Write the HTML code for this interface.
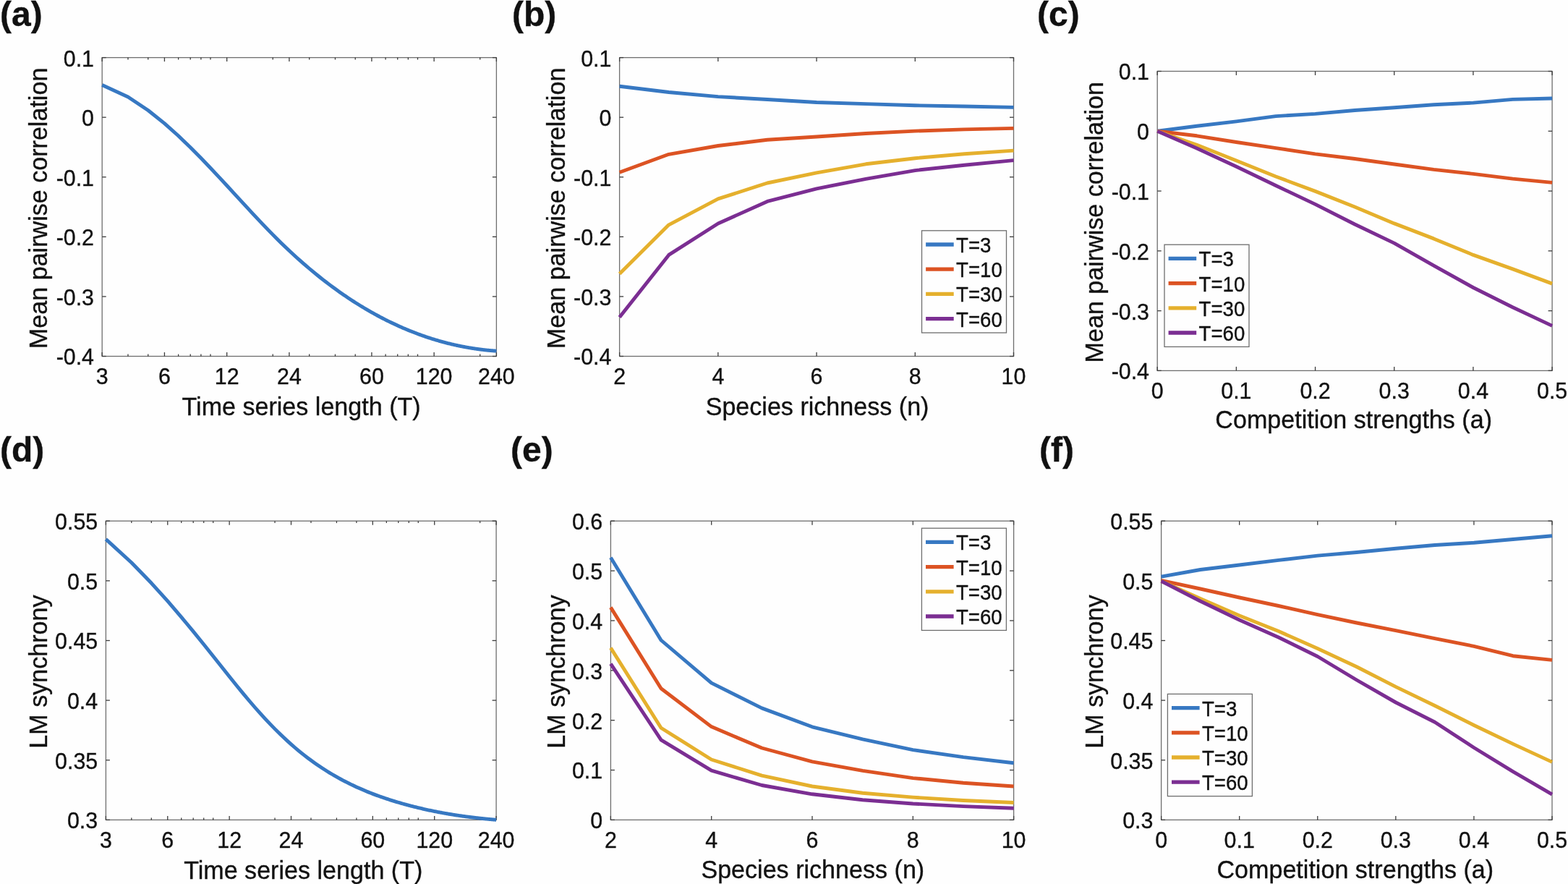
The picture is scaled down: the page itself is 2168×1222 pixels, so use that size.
<!DOCTYPE html>
<html><head><meta charset="utf-8"><title>Figure</title>
<style>
html,body{margin:0;padding:0;background:#fefefe;}
body{width:2168px;height:1222px;overflow:hidden;}
svg{display:block;}
text{fill:#111111;font-family:"Liberation Sans", Arial, Helvetica, sans-serif;stroke:#111111;stroke-width:0.35px;}
</style></head><body>
<svg width="2168" height="1222" viewBox="0 0 2168 1222">
<rect x="0" y="0" width="2168" height="1222" fill="#fefefe"/>
<rect x="141.2" y="79.6" width="545.2" height="412.9" fill="none" stroke="#6e6e6e" stroke-width="1.3"/>
<line x1="141.2" y1="79.6" x2="146.7" y2="79.6" stroke="#3c3c3c" stroke-width="1.3"/>
<line x1="686.4" y1="79.6" x2="680.9" y2="79.6" stroke="#3c3c3c" stroke-width="1.3"/>
<text font-size="30.4" text-anchor="end" transform="translate(130,91.5) scale(1.0,1.05)">0.1</text>
<line x1="141.2" y1="162.18" x2="146.7" y2="162.18" stroke="#3c3c3c" stroke-width="1.3"/>
<line x1="686.4" y1="162.18" x2="680.9" y2="162.18" stroke="#3c3c3c" stroke-width="1.3"/>
<text font-size="30.4" text-anchor="end" transform="translate(130,174.08) scale(1.0,1.05)">0</text>
<line x1="141.2" y1="244.76" x2="146.7" y2="244.76" stroke="#3c3c3c" stroke-width="1.3"/>
<line x1="686.4" y1="244.76" x2="680.9" y2="244.76" stroke="#3c3c3c" stroke-width="1.3"/>
<text font-size="30.4" text-anchor="end" transform="translate(130,256.66) scale(1.0,1.05)">-0.1</text>
<line x1="141.2" y1="327.34" x2="146.7" y2="327.34" stroke="#3c3c3c" stroke-width="1.3"/>
<line x1="686.4" y1="327.34" x2="680.9" y2="327.34" stroke="#3c3c3c" stroke-width="1.3"/>
<text font-size="30.4" text-anchor="end" transform="translate(130,339.24) scale(1.0,1.05)">-0.2</text>
<line x1="141.2" y1="409.92" x2="146.7" y2="409.92" stroke="#3c3c3c" stroke-width="1.3"/>
<line x1="686.4" y1="409.92" x2="680.9" y2="409.92" stroke="#3c3c3c" stroke-width="1.3"/>
<text font-size="30.4" text-anchor="end" transform="translate(130,421.82) scale(1.0,1.05)">-0.3</text>
<line x1="141.2" y1="492.5" x2="146.7" y2="492.5" stroke="#3c3c3c" stroke-width="1.3"/>
<line x1="686.4" y1="492.5" x2="680.9" y2="492.5" stroke="#3c3c3c" stroke-width="1.3"/>
<text font-size="30.4" text-anchor="end" transform="translate(130,504.4) scale(1.0,1.05)">-0.4</text>
<line x1="176.99" y1="492.5" x2="176.99" y2="489.6" stroke="#3c3c3c" stroke-width="1.3"/>
<line x1="176.99" y1="79.6" x2="176.99" y2="82.5" stroke="#3c3c3c" stroke-width="1.3"/>
<line x1="204.76" y1="492.5" x2="204.76" y2="489.6" stroke="#3c3c3c" stroke-width="1.3"/>
<line x1="204.76" y1="79.6" x2="204.76" y2="82.5" stroke="#3c3c3c" stroke-width="1.3"/>
<line x1="246.62" y1="492.5" x2="246.62" y2="489.6" stroke="#3c3c3c" stroke-width="1.3"/>
<line x1="246.62" y1="79.6" x2="246.62" y2="82.5" stroke="#3c3c3c" stroke-width="1.3"/>
<line x1="263.23" y1="492.5" x2="263.23" y2="489.6" stroke="#3c3c3c" stroke-width="1.3"/>
<line x1="263.23" y1="79.6" x2="263.23" y2="82.5" stroke="#3c3c3c" stroke-width="1.3"/>
<line x1="277.89" y1="492.5" x2="277.89" y2="489.6" stroke="#3c3c3c" stroke-width="1.3"/>
<line x1="277.89" y1="79.6" x2="277.89" y2="82.5" stroke="#3c3c3c" stroke-width="1.3"/>
<line x1="291" y1="492.5" x2="291" y2="489.6" stroke="#3c3c3c" stroke-width="1.3"/>
<line x1="291" y1="79.6" x2="291" y2="82.5" stroke="#3c3c3c" stroke-width="1.3"/>
<line x1="377.23" y1="492.5" x2="377.23" y2="489.6" stroke="#3c3c3c" stroke-width="1.3"/>
<line x1="377.23" y1="79.6" x2="377.23" y2="82.5" stroke="#3c3c3c" stroke-width="1.3"/>
<line x1="427.68" y1="492.5" x2="427.68" y2="489.6" stroke="#3c3c3c" stroke-width="1.3"/>
<line x1="427.68" y1="79.6" x2="427.68" y2="82.5" stroke="#3c3c3c" stroke-width="1.3"/>
<line x1="463.47" y1="492.5" x2="463.47" y2="489.6" stroke="#3c3c3c" stroke-width="1.3"/>
<line x1="463.47" y1="79.6" x2="463.47" y2="82.5" stroke="#3c3c3c" stroke-width="1.3"/>
<line x1="491.24" y1="492.5" x2="491.24" y2="489.6" stroke="#3c3c3c" stroke-width="1.3"/>
<line x1="491.24" y1="79.6" x2="491.24" y2="82.5" stroke="#3c3c3c" stroke-width="1.3"/>
<line x1="533.1" y1="492.5" x2="533.1" y2="489.6" stroke="#3c3c3c" stroke-width="1.3"/>
<line x1="533.1" y1="79.6" x2="533.1" y2="82.5" stroke="#3c3c3c" stroke-width="1.3"/>
<line x1="549.71" y1="492.5" x2="549.71" y2="489.6" stroke="#3c3c3c" stroke-width="1.3"/>
<line x1="549.71" y1="79.6" x2="549.71" y2="82.5" stroke="#3c3c3c" stroke-width="1.3"/>
<line x1="564.37" y1="492.5" x2="564.37" y2="489.6" stroke="#3c3c3c" stroke-width="1.3"/>
<line x1="564.37" y1="79.6" x2="564.37" y2="82.5" stroke="#3c3c3c" stroke-width="1.3"/>
<line x1="577.48" y1="492.5" x2="577.48" y2="489.6" stroke="#3c3c3c" stroke-width="1.3"/>
<line x1="577.48" y1="79.6" x2="577.48" y2="82.5" stroke="#3c3c3c" stroke-width="1.3"/>
<line x1="663.72" y1="492.5" x2="663.72" y2="489.6" stroke="#3c3c3c" stroke-width="1.3"/>
<line x1="663.72" y1="79.6" x2="663.72" y2="82.5" stroke="#3c3c3c" stroke-width="1.3"/>
<line x1="141.2" y1="492.5" x2="141.2" y2="487" stroke="#3c3c3c" stroke-width="1.3"/>
<line x1="141.2" y1="79.6" x2="141.2" y2="85.1" stroke="#3c3c3c" stroke-width="1.3"/>
<line x1="227.44" y1="492.5" x2="227.44" y2="487" stroke="#3c3c3c" stroke-width="1.3"/>
<line x1="227.44" y1="79.6" x2="227.44" y2="85.1" stroke="#3c3c3c" stroke-width="1.3"/>
<line x1="313.68" y1="492.5" x2="313.68" y2="487" stroke="#3c3c3c" stroke-width="1.3"/>
<line x1="313.68" y1="79.6" x2="313.68" y2="85.1" stroke="#3c3c3c" stroke-width="1.3"/>
<line x1="399.92" y1="492.5" x2="399.92" y2="487" stroke="#3c3c3c" stroke-width="1.3"/>
<line x1="399.92" y1="79.6" x2="399.92" y2="85.1" stroke="#3c3c3c" stroke-width="1.3"/>
<line x1="513.92" y1="492.5" x2="513.92" y2="487" stroke="#3c3c3c" stroke-width="1.3"/>
<line x1="513.92" y1="79.6" x2="513.92" y2="85.1" stroke="#3c3c3c" stroke-width="1.3"/>
<line x1="600.16" y1="492.5" x2="600.16" y2="487" stroke="#3c3c3c" stroke-width="1.3"/>
<line x1="600.16" y1="79.6" x2="600.16" y2="85.1" stroke="#3c3c3c" stroke-width="1.3"/>
<line x1="686.4" y1="492.5" x2="686.4" y2="487" stroke="#3c3c3c" stroke-width="1.3"/>
<line x1="686.4" y1="79.6" x2="686.4" y2="85.1" stroke="#3c3c3c" stroke-width="1.3"/>
<text font-size="30.4" text-anchor="middle" transform="translate(141.2,531.1) scale(1.0,1.05)">3</text>
<text font-size="30.4" text-anchor="middle" transform="translate(227.44,531.1) scale(1.0,1.05)">6</text>
<text font-size="30.4" text-anchor="middle" transform="translate(313.68,531.1) scale(1.0,1.05)">12</text>
<text font-size="30.4" text-anchor="middle" transform="translate(399.92,531.1) scale(1.0,1.05)">24</text>
<text font-size="30.4" text-anchor="middle" transform="translate(513.92,531.1) scale(1.0,1.05)">60</text>
<text font-size="30.4" text-anchor="middle" transform="translate(600.16,531.1) scale(1.0,1.05)">120</text>
<text font-size="30.4" text-anchor="middle" transform="translate(686.4,531.1) scale(1.0,1.05)">240</text>
<polyline points="141.2,117.56 176.99,134.07 204.76,152.52 227.44,170.66 246.62,187.78 263.23,203.73 277.89,218.5 291,232.18 302.85,244.83 313.68,256.53 323.64,267.35 332.86,277.38 341.44,286.68 349.47,295.32 357.01,303.36 364.13,310.85 370.85,317.83 377.23,324.36 383.3,330.45 389.09,336.16 394.62,341.5 399.92,346.52 405,351.24 409.88,355.69 414.57,359.9 419.1,363.88 423.46,367.66 427.68,371.25 431.76,374.67 435.71,377.92 439.54,381.02 443.25,383.99 446.86,386.82 450.37,389.53 453.77,392.13 457.09,394.63 460.32,397.02 463.47,399.32 466.55,401.53 469.54,403.66 472.47,405.71 475.33,407.69 478.13,409.6 480.86,411.44 483.54,413.22 486.16,414.94 488.72,416.6 491.24,418.21 493.7,419.76 496.12,421.27 498.49,422.73 500.81,424.15 503.1,425.52 505.34,426.86 507.54,428.15 509.7,429.41 511.83,430.63 513.92,431.81 515.98,432.97 518,434.09 519.99,435.18 521.95,436.25 523.88,437.28 525.78,438.29 527.65,439.27 529.49,440.23 531.31,441.16 533.1,442.07 534.86,442.95 536.6,443.82 538.32,444.66 540.01,445.49 541.68,446.29 543.33,447.07 544.96,447.84 546.56,448.59 548.15,449.32 549.71,450.04 551.26,450.74 552.79,451.42 554.29,452.09 555.78,452.74 557.26,453.38 558.71,454 560.15,454.62 561.57,455.21 562.98,455.8 564.37,456.37 565.74,456.94 567.1,457.49 568.45,458.03 569.78,458.55 571.09,459.07 572.4,459.58 573.69,460.07 574.96,460.56 576.23,461.04 577.48,461.5 578.71,461.96 579.94,462.41 581.15,462.85 582.36,463.28 583.55,463.71 584.73,464.12 585.89,464.53 587.05,464.93 588.2,465.32 589.33,465.71 590.46,466.09 591.58,466.46 592.68,466.82 593.78,467.18 594.87,467.53 595.94,467.87 597.01,468.21 598.07,468.54 599.12,468.87 600.16,469.19 601.19,469.5 602.22,469.81 603.23,470.12 604.24,470.41 605.24,470.71 606.23,470.99 607.21,471.28 608.19,471.55 609.16,471.83 610.12,472.09 611.07,472.36 612.02,472.62 612.96,472.87 613.89,473.12 614.81,473.37 615.73,473.61 616.64,473.85 617.55,474.08 618.45,474.31 619.34,474.53 620.23,474.76 621.1,474.97 621.98,475.19 622.84,475.4 623.71,475.6 624.56,475.81 625.41,476.01 626.25,476.21 627.09,476.4 627.92,476.59 628.75,476.78 629.57,476.96 630.39,477.14 631.2,477.32 632,477.49 632.8,477.67 633.6,477.83 634.39,478 635.17,478.16 635.95,478.32 636.73,478.48 637.5,478.64 638.26,478.79 639.03,478.94 639.78,479.09 640.53,479.24 641.28,479.38 642.02,479.52 642.76,479.66 643.5,479.79 644.23,479.93 644.95,480.06 645.67,480.19 646.39,480.32 647.1,480.44 647.81,480.56 648.52,480.68 649.22,480.8 649.91,480.92 650.61,481.03 651.3,481.15 651.98,481.26 652.66,481.37 653.34,481.48 654.02,481.58 654.69,481.68 655.35,481.79 656.02,481.89 656.68,481.98 657.33,482.08 657.99,482.18 658.64,482.27 659.28,482.36 659.93,482.45 660.57,482.54 661.2,482.63 661.84,482.71 662.47,482.8 663.09,482.88 663.72,482.96 664.34,483.04 664.95,483.12 665.57,483.2 666.18,483.27 666.79,483.35 667.39,483.42 668,483.49 668.6,483.56 669.19,483.63 669.79,483.7 670.38,483.76 670.97,483.83 671.55,483.89 672.13,483.96 672.71,484.02 673.29,484.08 673.87,484.14 674.44,484.19 675.01,484.25 675.57,484.31 676.14,484.36 676.7,484.42 677.26,484.47 677.82,484.52 678.37,484.57 678.92,484.62 679.47,484.67 680.02,484.71 680.56,484.76 681.1,484.81 681.64,484.85 682.18,484.89 682.72,484.94 683.25,484.98 683.78,485.02 684.31,485.06 684.83,485.1 685.36,485.14 685.88,485.17 686.4,485.21" fill="none" stroke="#3778c2" stroke-width="4.9" stroke-linejoin="round" stroke-linecap="butt"/>
<text x="0" y="0" font-size="34.1" text-anchor="middle" transform="translate(65.4,287.85) rotate(-90) scale(1,1.035)">Mean pairwise correlation</text>
<text font-size="34.1" text-anchor="middle" transform="translate(416.6,574) scale(1.0,1.035)">Time series length (T)</text>
<text x="0" y="36" font-size="48" text-anchor="start" font-weight="bold">(a)</text>
<rect x="856.6" y="79.6" width="544.9" height="412.9" fill="none" stroke="#6e6e6e" stroke-width="1.3"/>
<line x1="856.6" y1="79.6" x2="862.1" y2="79.6" stroke="#3c3c3c" stroke-width="1.3"/>
<line x1="1401.5" y1="79.6" x2="1396" y2="79.6" stroke="#3c3c3c" stroke-width="1.3"/>
<text font-size="30.4" text-anchor="end" transform="translate(845.4,91.5) scale(1.0,1.05)">0.1</text>
<line x1="856.6" y1="162.18" x2="862.1" y2="162.18" stroke="#3c3c3c" stroke-width="1.3"/>
<line x1="1401.5" y1="162.18" x2="1396" y2="162.18" stroke="#3c3c3c" stroke-width="1.3"/>
<text font-size="30.4" text-anchor="end" transform="translate(845.4,174.08) scale(1.0,1.05)">0</text>
<line x1="856.6" y1="244.76" x2="862.1" y2="244.76" stroke="#3c3c3c" stroke-width="1.3"/>
<line x1="1401.5" y1="244.76" x2="1396" y2="244.76" stroke="#3c3c3c" stroke-width="1.3"/>
<text font-size="30.4" text-anchor="end" transform="translate(845.4,256.66) scale(1.0,1.05)">-0.1</text>
<line x1="856.6" y1="327.34" x2="862.1" y2="327.34" stroke="#3c3c3c" stroke-width="1.3"/>
<line x1="1401.5" y1="327.34" x2="1396" y2="327.34" stroke="#3c3c3c" stroke-width="1.3"/>
<text font-size="30.4" text-anchor="end" transform="translate(845.4,339.24) scale(1.0,1.05)">-0.2</text>
<line x1="856.6" y1="409.92" x2="862.1" y2="409.92" stroke="#3c3c3c" stroke-width="1.3"/>
<line x1="1401.5" y1="409.92" x2="1396" y2="409.92" stroke="#3c3c3c" stroke-width="1.3"/>
<text font-size="30.4" text-anchor="end" transform="translate(845.4,421.82) scale(1.0,1.05)">-0.3</text>
<line x1="856.6" y1="492.5" x2="862.1" y2="492.5" stroke="#3c3c3c" stroke-width="1.3"/>
<line x1="1401.5" y1="492.5" x2="1396" y2="492.5" stroke="#3c3c3c" stroke-width="1.3"/>
<text font-size="30.4" text-anchor="end" transform="translate(845.4,504.4) scale(1.0,1.05)">-0.4</text>
<line x1="856.6" y1="492.5" x2="856.6" y2="487" stroke="#3c3c3c" stroke-width="1.3"/>
<line x1="856.6" y1="79.6" x2="856.6" y2="85.1" stroke="#3c3c3c" stroke-width="1.3"/>
<line x1="992.83" y1="492.5" x2="992.83" y2="487" stroke="#3c3c3c" stroke-width="1.3"/>
<line x1="992.83" y1="79.6" x2="992.83" y2="85.1" stroke="#3c3c3c" stroke-width="1.3"/>
<line x1="1129.05" y1="492.5" x2="1129.05" y2="487" stroke="#3c3c3c" stroke-width="1.3"/>
<line x1="1129.05" y1="79.6" x2="1129.05" y2="85.1" stroke="#3c3c3c" stroke-width="1.3"/>
<line x1="1265.28" y1="492.5" x2="1265.28" y2="487" stroke="#3c3c3c" stroke-width="1.3"/>
<line x1="1265.28" y1="79.6" x2="1265.28" y2="85.1" stroke="#3c3c3c" stroke-width="1.3"/>
<line x1="1401.5" y1="492.5" x2="1401.5" y2="487" stroke="#3c3c3c" stroke-width="1.3"/>
<line x1="1401.5" y1="79.6" x2="1401.5" y2="85.1" stroke="#3c3c3c" stroke-width="1.3"/>
<text font-size="30.4" text-anchor="middle" transform="translate(856.6,531.1) scale(1.0,1.05)">2</text>
<text font-size="30.4" text-anchor="middle" transform="translate(992.83,531.1) scale(1.0,1.05)">4</text>
<text font-size="30.4" text-anchor="middle" transform="translate(1129.05,531.1) scale(1.0,1.05)">6</text>
<text font-size="30.4" text-anchor="middle" transform="translate(1265.28,531.1) scale(1.0,1.05)">8</text>
<text font-size="30.4" text-anchor="middle" transform="translate(1401.5,531.1) scale(1.0,1.05)">10</text>
<polyline points="856.6,119.3 924.71,127.5 992.83,133.6 1060.94,137.5 1129.05,141.5 1197.16,143.6 1265.28,145.8 1333.39,147 1401.5,148.4" fill="none" stroke="#3778c2" stroke-width="4.9" stroke-linejoin="round" stroke-linecap="butt"/>
<polyline points="856.6,238.3 924.71,213.3 992.83,201.5 1060.94,193.3 1129.05,189 1197.16,184.5 1265.28,181.1 1333.39,178.9 1401.5,177.4" fill="none" stroke="#dc5323" stroke-width="4.9" stroke-linejoin="round" stroke-linecap="butt"/>
<polyline points="856.6,378.6 924.71,310.8 992.83,274.9 1060.94,253 1129.05,238.8 1197.16,226.8 1265.28,218.7 1333.39,212.8 1401.5,208.1" fill="none" stroke="#e5b02d" stroke-width="4.9" stroke-linejoin="round" stroke-linecap="butt"/>
<polyline points="856.6,438.4 924.71,352.4 992.83,309 1060.94,278.4 1129.05,260.8 1197.16,247.4 1265.28,235.6 1333.39,228.2 1401.5,221.6" fill="none" stroke="#7b2e92" stroke-width="4.9" stroke-linejoin="round" stroke-linecap="butt"/>
<rect x="1274.5" y="318.8" width="117" height="141.2" fill="#fefefe" stroke="#6e6e6e" stroke-width="1.3"/>
<line x1="1280.1" y1="338" x2="1318.7" y2="338" stroke="#3778c2" stroke-width="5.3"/>
<text font-size="27.6" text-anchor="start" transform="translate(1322.1,349) scale(1.0,1.04)">T=3</text>
<line x1="1280.1" y1="372.2" x2="1318.7" y2="372.2" stroke="#dc5323" stroke-width="5.3"/>
<text font-size="27.6" text-anchor="start" transform="translate(1322.1,383.2) scale(1.0,1.04)">T=10</text>
<line x1="1280.1" y1="406.4" x2="1318.7" y2="406.4" stroke="#e5b02d" stroke-width="5.3"/>
<text font-size="27.6" text-anchor="start" transform="translate(1322.1,417.4) scale(1.0,1.04)">T=30</text>
<line x1="1280.1" y1="440.6" x2="1318.7" y2="440.6" stroke="#7b2e92" stroke-width="5.3"/>
<text font-size="27.6" text-anchor="start" transform="translate(1322.1,451.6) scale(1.0,1.04)">T=60</text>
<text x="0" y="0" font-size="34.1" text-anchor="middle" transform="translate(780.6,287.85) rotate(-90) scale(1,1.035)">Mean pairwise correlation</text>
<text font-size="34.1" text-anchor="middle" transform="translate(1130.05,573.5) scale(1.0,1.035)">Species richness (n)</text>
<text x="708" y="36" font-size="48" text-anchor="start" font-weight="bold">(b)</text>
<rect x="1600.2" y="98.5" width="545.9" height="413.9" fill="none" stroke="#6e6e6e" stroke-width="1.3"/>
<line x1="1600.2" y1="98.5" x2="1605.7" y2="98.5" stroke="#3c3c3c" stroke-width="1.3"/>
<line x1="2146.1" y1="98.5" x2="2140.6" y2="98.5" stroke="#3c3c3c" stroke-width="1.3"/>
<text font-size="30.4" text-anchor="end" transform="translate(1589,110.4) scale(1.0,1.05)">0.1</text>
<line x1="1600.2" y1="181.28" x2="1605.7" y2="181.28" stroke="#3c3c3c" stroke-width="1.3"/>
<line x1="2146.1" y1="181.28" x2="2140.6" y2="181.28" stroke="#3c3c3c" stroke-width="1.3"/>
<text font-size="30.4" text-anchor="end" transform="translate(1589,193.18) scale(1.0,1.05)">0</text>
<line x1="1600.2" y1="264.06" x2="1605.7" y2="264.06" stroke="#3c3c3c" stroke-width="1.3"/>
<line x1="2146.1" y1="264.06" x2="2140.6" y2="264.06" stroke="#3c3c3c" stroke-width="1.3"/>
<text font-size="30.4" text-anchor="end" transform="translate(1589,275.96) scale(1.0,1.05)">-0.1</text>
<line x1="1600.2" y1="346.84" x2="1605.7" y2="346.84" stroke="#3c3c3c" stroke-width="1.3"/>
<line x1="2146.1" y1="346.84" x2="2140.6" y2="346.84" stroke="#3c3c3c" stroke-width="1.3"/>
<text font-size="30.4" text-anchor="end" transform="translate(1589,358.74) scale(1.0,1.05)">-0.2</text>
<line x1="1600.2" y1="429.62" x2="1605.7" y2="429.62" stroke="#3c3c3c" stroke-width="1.3"/>
<line x1="2146.1" y1="429.62" x2="2140.6" y2="429.62" stroke="#3c3c3c" stroke-width="1.3"/>
<text font-size="30.4" text-anchor="end" transform="translate(1589,441.52) scale(1.0,1.05)">-0.3</text>
<line x1="1600.2" y1="512.4" x2="1605.7" y2="512.4" stroke="#3c3c3c" stroke-width="1.3"/>
<line x1="2146.1" y1="512.4" x2="2140.6" y2="512.4" stroke="#3c3c3c" stroke-width="1.3"/>
<text font-size="30.4" text-anchor="end" transform="translate(1589,524.3) scale(1.0,1.05)">-0.4</text>
<line x1="1600.2" y1="512.4" x2="1600.2" y2="506.9" stroke="#3c3c3c" stroke-width="1.3"/>
<line x1="1600.2" y1="98.5" x2="1600.2" y2="104" stroke="#3c3c3c" stroke-width="1.3"/>
<line x1="1709.38" y1="512.4" x2="1709.38" y2="506.9" stroke="#3c3c3c" stroke-width="1.3"/>
<line x1="1709.38" y1="98.5" x2="1709.38" y2="104" stroke="#3c3c3c" stroke-width="1.3"/>
<line x1="1818.56" y1="512.4" x2="1818.56" y2="506.9" stroke="#3c3c3c" stroke-width="1.3"/>
<line x1="1818.56" y1="98.5" x2="1818.56" y2="104" stroke="#3c3c3c" stroke-width="1.3"/>
<line x1="1927.74" y1="512.4" x2="1927.74" y2="506.9" stroke="#3c3c3c" stroke-width="1.3"/>
<line x1="1927.74" y1="98.5" x2="1927.74" y2="104" stroke="#3c3c3c" stroke-width="1.3"/>
<line x1="2036.92" y1="512.4" x2="2036.92" y2="506.9" stroke="#3c3c3c" stroke-width="1.3"/>
<line x1="2036.92" y1="98.5" x2="2036.92" y2="104" stroke="#3c3c3c" stroke-width="1.3"/>
<line x1="2146.1" y1="512.4" x2="2146.1" y2="506.9" stroke="#3c3c3c" stroke-width="1.3"/>
<line x1="2146.1" y1="98.5" x2="2146.1" y2="104" stroke="#3c3c3c" stroke-width="1.3"/>
<text font-size="30.4" text-anchor="middle" transform="translate(1600.2,551) scale(1.0,1.05)">0</text>
<text font-size="30.4" text-anchor="middle" transform="translate(1709.38,551) scale(1.0,1.05)">0.1</text>
<text font-size="30.4" text-anchor="middle" transform="translate(1818.56,551) scale(1.0,1.05)">0.2</text>
<text font-size="30.4" text-anchor="middle" transform="translate(1927.74,551) scale(1.0,1.05)">0.3</text>
<text font-size="30.4" text-anchor="middle" transform="translate(2036.92,551) scale(1.0,1.05)">0.4</text>
<text font-size="30.4" text-anchor="middle" transform="translate(2146.1,551) scale(1.0,1.05)">0.5</text>
<polyline points="1600.2,181.3 1654.79,174.2 1709.38,167.9 1763.97,160.6 1818.56,157.4 1873.15,152.5 1927.74,148.8 1982.33,144.7 2036.92,142.1 2091.51,137.4 2146.1,136" fill="none" stroke="#3778c2" stroke-width="4.9" stroke-linejoin="round" stroke-linecap="butt"/>
<polyline points="1600.2,181.3 1654.79,187.8 1709.38,196.5 1763.97,204.6 1818.56,212.9 1873.15,219.5 1927.74,227 1982.33,234.4 2036.92,240.4 2091.51,247.1 2146.1,252.4" fill="none" stroke="#dc5323" stroke-width="4.9" stroke-linejoin="round" stroke-linecap="butt"/>
<polyline points="1600.2,181.3 1654.79,200.3 1709.38,222 1763.97,244 1818.56,264.4 1873.15,286 1927.74,308.9 1982.33,329.9 2036.92,352.4 2091.51,371.9 2146.1,392.1" fill="none" stroke="#e5b02d" stroke-width="4.9" stroke-linejoin="round" stroke-linecap="butt"/>
<polyline points="1600.2,181.3 1654.79,205 1709.38,230.3 1763.97,256.5 1818.56,282.4 1873.15,310 1927.74,336.1 1982.33,367.2 2036.92,397.5 2091.51,424.7 2146.1,450.4" fill="none" stroke="#7b2e92" stroke-width="4.9" stroke-linejoin="round" stroke-linecap="butt"/>
<rect x="1610" y="338.2" width="117" height="141.2" fill="#fefefe" stroke="#6e6e6e" stroke-width="1.3"/>
<line x1="1615.6" y1="357.4" x2="1654.2" y2="357.4" stroke="#3778c2" stroke-width="5.3"/>
<text font-size="27.6" text-anchor="start" transform="translate(1657.6,368.4) scale(1.0,1.04)">T=3</text>
<line x1="1615.6" y1="391.6" x2="1654.2" y2="391.6" stroke="#dc5323" stroke-width="5.3"/>
<text font-size="27.6" text-anchor="start" transform="translate(1657.6,402.6) scale(1.0,1.04)">T=10</text>
<line x1="1615.6" y1="425.8" x2="1654.2" y2="425.8" stroke="#e5b02d" stroke-width="5.3"/>
<text font-size="27.6" text-anchor="start" transform="translate(1657.6,436.8) scale(1.0,1.04)">T=30</text>
<line x1="1615.6" y1="460" x2="1654.2" y2="460" stroke="#7b2e92" stroke-width="5.3"/>
<text font-size="27.6" text-anchor="start" transform="translate(1657.6,471) scale(1.0,1.04)">T=60</text>
<text x="0" y="0" font-size="34.1" text-anchor="middle" transform="translate(1525,307.25) rotate(-90) scale(1,1.035)">Mean pairwise correlation</text>
<text font-size="34.1" text-anchor="middle" transform="translate(1871.65,591.8) scale(1.0,1.035)">Competition strengths (a)</text>
<text x="1434" y="36" font-size="48" text-anchor="start" font-weight="bold">(c)</text>
<rect x="146.4" y="720.2" width="539.7" height="413.2" fill="none" stroke="#6e6e6e" stroke-width="1.3"/>
<line x1="146.4" y1="720.2" x2="151.9" y2="720.2" stroke="#3c3c3c" stroke-width="1.3"/>
<line x1="686.1" y1="720.2" x2="680.6" y2="720.2" stroke="#3c3c3c" stroke-width="1.3"/>
<text font-size="30.4" text-anchor="end" transform="translate(135.2,732.1) scale(1.0,1.05)">0.55</text>
<line x1="146.4" y1="802.84" x2="151.9" y2="802.84" stroke="#3c3c3c" stroke-width="1.3"/>
<line x1="686.1" y1="802.84" x2="680.6" y2="802.84" stroke="#3c3c3c" stroke-width="1.3"/>
<text font-size="30.4" text-anchor="end" transform="translate(135.2,814.74) scale(1.0,1.05)">0.5</text>
<line x1="146.4" y1="885.48" x2="151.9" y2="885.48" stroke="#3c3c3c" stroke-width="1.3"/>
<line x1="686.1" y1="885.48" x2="680.6" y2="885.48" stroke="#3c3c3c" stroke-width="1.3"/>
<text font-size="30.4" text-anchor="end" transform="translate(135.2,897.38) scale(1.0,1.05)">0.45</text>
<line x1="146.4" y1="968.12" x2="151.9" y2="968.12" stroke="#3c3c3c" stroke-width="1.3"/>
<line x1="686.1" y1="968.12" x2="680.6" y2="968.12" stroke="#3c3c3c" stroke-width="1.3"/>
<text font-size="30.4" text-anchor="end" transform="translate(135.2,980.02) scale(1.0,1.05)">0.4</text>
<line x1="146.4" y1="1050.76" x2="151.9" y2="1050.76" stroke="#3c3c3c" stroke-width="1.3"/>
<line x1="686.1" y1="1050.76" x2="680.6" y2="1050.76" stroke="#3c3c3c" stroke-width="1.3"/>
<text font-size="30.4" text-anchor="end" transform="translate(135.2,1062.66) scale(1.0,1.05)">0.35</text>
<line x1="146.4" y1="1133.4" x2="151.9" y2="1133.4" stroke="#3c3c3c" stroke-width="1.3"/>
<line x1="686.1" y1="1133.4" x2="680.6" y2="1133.4" stroke="#3c3c3c" stroke-width="1.3"/>
<text font-size="30.4" text-anchor="end" transform="translate(135.2,1145.3) scale(1.0,1.05)">0.3</text>
<line x1="181.83" y1="1133.4" x2="181.83" y2="1130.5" stroke="#3c3c3c" stroke-width="1.3"/>
<line x1="181.83" y1="720.2" x2="181.83" y2="723.1" stroke="#3c3c3c" stroke-width="1.3"/>
<line x1="209.31" y1="1133.4" x2="209.31" y2="1130.5" stroke="#3c3c3c" stroke-width="1.3"/>
<line x1="209.31" y1="720.2" x2="209.31" y2="723.1" stroke="#3c3c3c" stroke-width="1.3"/>
<line x1="250.76" y1="1133.4" x2="250.76" y2="1130.5" stroke="#3c3c3c" stroke-width="1.3"/>
<line x1="250.76" y1="720.2" x2="250.76" y2="723.1" stroke="#3c3c3c" stroke-width="1.3"/>
<line x1="267.2" y1="1133.4" x2="267.2" y2="1130.5" stroke="#3c3c3c" stroke-width="1.3"/>
<line x1="267.2" y1="720.2" x2="267.2" y2="723.1" stroke="#3c3c3c" stroke-width="1.3"/>
<line x1="281.71" y1="1133.4" x2="281.71" y2="1130.5" stroke="#3c3c3c" stroke-width="1.3"/>
<line x1="281.71" y1="720.2" x2="281.71" y2="723.1" stroke="#3c3c3c" stroke-width="1.3"/>
<line x1="294.68" y1="1133.4" x2="294.68" y2="1130.5" stroke="#3c3c3c" stroke-width="1.3"/>
<line x1="294.68" y1="720.2" x2="294.68" y2="723.1" stroke="#3c3c3c" stroke-width="1.3"/>
<line x1="380.05" y1="1133.4" x2="380.05" y2="1130.5" stroke="#3c3c3c" stroke-width="1.3"/>
<line x1="380.05" y1="720.2" x2="380.05" y2="723.1" stroke="#3c3c3c" stroke-width="1.3"/>
<line x1="429.99" y1="1133.4" x2="429.99" y2="1130.5" stroke="#3c3c3c" stroke-width="1.3"/>
<line x1="429.99" y1="720.2" x2="429.99" y2="723.1" stroke="#3c3c3c" stroke-width="1.3"/>
<line x1="465.42" y1="1133.4" x2="465.42" y2="1130.5" stroke="#3c3c3c" stroke-width="1.3"/>
<line x1="465.42" y1="720.2" x2="465.42" y2="723.1" stroke="#3c3c3c" stroke-width="1.3"/>
<line x1="492.91" y1="1133.4" x2="492.91" y2="1130.5" stroke="#3c3c3c" stroke-width="1.3"/>
<line x1="492.91" y1="720.2" x2="492.91" y2="723.1" stroke="#3c3c3c" stroke-width="1.3"/>
<line x1="534.35" y1="1133.4" x2="534.35" y2="1130.5" stroke="#3c3c3c" stroke-width="1.3"/>
<line x1="534.35" y1="720.2" x2="534.35" y2="723.1" stroke="#3c3c3c" stroke-width="1.3"/>
<line x1="550.79" y1="1133.4" x2="550.79" y2="1130.5" stroke="#3c3c3c" stroke-width="1.3"/>
<line x1="550.79" y1="720.2" x2="550.79" y2="723.1" stroke="#3c3c3c" stroke-width="1.3"/>
<line x1="565.3" y1="1133.4" x2="565.3" y2="1130.5" stroke="#3c3c3c" stroke-width="1.3"/>
<line x1="565.3" y1="720.2" x2="565.3" y2="723.1" stroke="#3c3c3c" stroke-width="1.3"/>
<line x1="578.28" y1="1133.4" x2="578.28" y2="1130.5" stroke="#3c3c3c" stroke-width="1.3"/>
<line x1="578.28" y1="720.2" x2="578.28" y2="723.1" stroke="#3c3c3c" stroke-width="1.3"/>
<line x1="663.64" y1="1133.4" x2="663.64" y2="1130.5" stroke="#3c3c3c" stroke-width="1.3"/>
<line x1="663.64" y1="720.2" x2="663.64" y2="723.1" stroke="#3c3c3c" stroke-width="1.3"/>
<line x1="146.4" y1="1133.4" x2="146.4" y2="1127.9" stroke="#3c3c3c" stroke-width="1.3"/>
<line x1="146.4" y1="720.2" x2="146.4" y2="725.7" stroke="#3c3c3c" stroke-width="1.3"/>
<line x1="231.77" y1="1133.4" x2="231.77" y2="1127.9" stroke="#3c3c3c" stroke-width="1.3"/>
<line x1="231.77" y1="720.2" x2="231.77" y2="725.7" stroke="#3c3c3c" stroke-width="1.3"/>
<line x1="317.14" y1="1133.4" x2="317.14" y2="1127.9" stroke="#3c3c3c" stroke-width="1.3"/>
<line x1="317.14" y1="720.2" x2="317.14" y2="725.7" stroke="#3c3c3c" stroke-width="1.3"/>
<line x1="402.51" y1="1133.4" x2="402.51" y2="1127.9" stroke="#3c3c3c" stroke-width="1.3"/>
<line x1="402.51" y1="720.2" x2="402.51" y2="725.7" stroke="#3c3c3c" stroke-width="1.3"/>
<line x1="515.36" y1="1133.4" x2="515.36" y2="1127.9" stroke="#3c3c3c" stroke-width="1.3"/>
<line x1="515.36" y1="720.2" x2="515.36" y2="725.7" stroke="#3c3c3c" stroke-width="1.3"/>
<line x1="600.73" y1="1133.4" x2="600.73" y2="1127.9" stroke="#3c3c3c" stroke-width="1.3"/>
<line x1="600.73" y1="720.2" x2="600.73" y2="725.7" stroke="#3c3c3c" stroke-width="1.3"/>
<line x1="686.1" y1="1133.4" x2="686.1" y2="1127.9" stroke="#3c3c3c" stroke-width="1.3"/>
<line x1="686.1" y1="720.2" x2="686.1" y2="725.7" stroke="#3c3c3c" stroke-width="1.3"/>
<text font-size="30.4" text-anchor="middle" transform="translate(146.4,1172) scale(1.0,1.05)">3</text>
<text font-size="30.4" text-anchor="middle" transform="translate(231.77,1172) scale(1.0,1.05)">6</text>
<text font-size="30.4" text-anchor="middle" transform="translate(317.14,1172) scale(1.0,1.05)">12</text>
<text font-size="30.4" text-anchor="middle" transform="translate(402.51,1172) scale(1.0,1.05)">24</text>
<text font-size="30.4" text-anchor="middle" transform="translate(515.36,1172) scale(1.0,1.05)">60</text>
<text font-size="30.4" text-anchor="middle" transform="translate(600.73,1172) scale(1.0,1.05)">120</text>
<text font-size="30.4" text-anchor="middle" transform="translate(686.1,1172) scale(1.0,1.05)">240</text>
<polyline points="146.4,745.4 181.83,777.73 209.31,806.05 231.77,830.96 250.76,853.06 267.2,872.86 281.71,890.75 294.68,907.01 306.42,921.79 317.14,935.23 327,947.45 336.12,958.58 344.62,968.73 352.57,977.98 360.04,986.43 367.08,994.14 373.74,1001.19 380.05,1007.66 386.06,1013.61 391.79,1019.1 397.27,1024.17 402.51,1028.87 407.54,1033.24 412.37,1037.3 417.01,1041.09 421.49,1044.62 425.82,1047.93 429.99,1051.04 434.03,1053.95 437.94,1056.7 441.73,1059.28 445.41,1061.73 448.98,1064.04 452.45,1066.22 455.82,1068.3 459.11,1070.27 462.3,1072.14 465.42,1073.92 468.46,1075.62 471.43,1077.24 474.33,1078.79 477.16,1080.27 479.93,1081.68 482.64,1083.04 485.29,1084.34 487.88,1085.58 490.42,1086.78 492.91,1087.93 495.34,1089.03 497.74,1090.1 500.08,1091.12 502.38,1092.11 504.64,1093.06 506.86,1093.98 509.04,1094.86 511.19,1095.72 513.29,1096.55 515.36,1097.35 517.4,1098.12 519.4,1098.87 521.37,1099.6 523.31,1100.31 525.22,1100.99 527.1,1101.65 528.95,1102.3 530.78,1102.93 532.57,1103.53 534.35,1104.13 536.09,1104.7 537.82,1105.26 539.51,1105.81 541.19,1106.34 542.84,1106.86 544.48,1107.36 546.09,1107.86 547.67,1108.34 549.24,1108.81 550.79,1109.26 552.32,1109.71 553.83,1110.15 555.33,1110.58 556.8,1110.99 558.26,1111.4 559.7,1111.8 561.12,1112.19 562.53,1112.58 563.92,1112.95 565.3,1113.32 566.66,1113.68 568.01,1114.03 569.34,1114.37 570.65,1114.71 571.96,1115.04 573.25,1115.37 574.52,1115.68 575.79,1115.99 577.04,1116.3 578.28,1116.6 579.5,1116.89 580.71,1117.18 581.92,1117.46 583.11,1117.74 584.28,1118.01 585.45,1118.28 586.61,1118.54 587.75,1118.8 588.89,1119.05 590.01,1119.3 591.13,1119.54 592.23,1119.78 593.33,1120.02 594.41,1120.25 595.49,1120.47 596.56,1120.7 597.61,1120.92 598.66,1121.13 599.7,1121.34 600.73,1121.55 601.75,1121.75 602.77,1121.96 603.77,1122.15 604.77,1122.35 605.76,1122.54 606.74,1122.73 607.71,1122.91 608.68,1123.09 609.64,1123.27 610.59,1123.45 611.53,1123.62 612.47,1123.79 613.4,1123.96 614.32,1124.13 615.24,1124.29 616.15,1124.45 617.05,1124.61 617.94,1124.76 618.83,1124.92 619.72,1125.07 620.59,1125.22 621.46,1125.36 622.33,1125.51 623.19,1125.65 624.04,1125.79 624.88,1125.93 625.73,1126.06 626.56,1126.2 627.39,1126.33 628.21,1126.46 629.03,1126.59 629.84,1126.71 630.65,1126.84 631.45,1126.96 632.25,1127.08 633.04,1127.2 633.83,1127.32 634.61,1127.43 635.39,1127.55 636.16,1127.66 636.93,1127.77 637.69,1127.88 638.45,1127.99 639.2,1128.1 639.95,1128.2 640.7,1128.31 641.44,1128.41 642.17,1128.51 642.9,1128.61 643.63,1128.71 644.35,1128.81 645.07,1128.9 645.78,1129 646.49,1129.09 647.2,1129.18 647.9,1129.27 648.6,1129.36 649.29,1129.45 649.98,1129.54 650.67,1129.63 651.35,1129.71 652.03,1129.8 652.7,1129.88 653.38,1129.96 654.04,1130.04 654.71,1130.12 655.37,1130.2 656.02,1130.28 656.68,1130.36 657.33,1130.43 657.97,1130.51 658.62,1130.58 659.26,1130.66 659.89,1130.73 660.53,1130.8 661.16,1130.87 661.78,1130.94 662.41,1131.01 663.03,1131.08 663.64,1131.15 664.26,1131.21 664.87,1131.28 665.48,1131.34 666.08,1131.41 666.69,1131.47 667.29,1131.54 667.88,1131.6 668.48,1131.66 669.07,1131.72 669.65,1131.78 670.24,1131.84 670.82,1131.9 671.4,1131.95 671.98,1132.01 672.55,1132.07 673.12,1132.12 673.69,1132.18 674.26,1132.23 674.82,1132.29 675.38,1132.34 675.94,1132.39 676.5,1132.45 677.05,1132.5 677.6,1132.55 678.15,1132.6 678.7,1132.65 679.24,1132.7 679.78,1132.75 680.32,1132.8 680.86,1132.84 681.39,1132.89 681.92,1132.94 682.45,1132.98 682.98,1133.03 683.51,1133.08 684.03,1133.12 684.55,1133.16 685.07,1133.21 685.59,1133.25 686.1,1133.29" fill="none" stroke="#3778c2" stroke-width="4.9" stroke-linejoin="round" stroke-linecap="butt"/>
<text x="0" y="0" font-size="34.1" text-anchor="middle" transform="translate(65.4,928.6) rotate(-90) scale(1,1.035)">LM synchrony</text>
<text font-size="34.1" text-anchor="middle" transform="translate(419.25,1215) scale(1.0,1.035)">Time series length (T)</text>
<text x="0" y="638" font-size="48" text-anchor="start" font-weight="bold">(d)</text>
<rect x="844.4" y="720.2" width="557.2" height="413.2" fill="none" stroke="#6e6e6e" stroke-width="1.3"/>
<line x1="844.4" y1="720.2" x2="849.9" y2="720.2" stroke="#3c3c3c" stroke-width="1.3"/>
<line x1="1401.6" y1="720.2" x2="1396.1" y2="720.2" stroke="#3c3c3c" stroke-width="1.3"/>
<text font-size="30.4" text-anchor="end" transform="translate(833.2,732.1) scale(1.0,1.05)">0.6</text>
<line x1="844.4" y1="789.07" x2="849.9" y2="789.07" stroke="#3c3c3c" stroke-width="1.3"/>
<line x1="1401.6" y1="789.07" x2="1396.1" y2="789.07" stroke="#3c3c3c" stroke-width="1.3"/>
<text font-size="30.4" text-anchor="end" transform="translate(833.2,800.97) scale(1.0,1.05)">0.5</text>
<line x1="844.4" y1="857.93" x2="849.9" y2="857.93" stroke="#3c3c3c" stroke-width="1.3"/>
<line x1="1401.6" y1="857.93" x2="1396.1" y2="857.93" stroke="#3c3c3c" stroke-width="1.3"/>
<text font-size="30.4" text-anchor="end" transform="translate(833.2,869.83) scale(1.0,1.05)">0.4</text>
<line x1="844.4" y1="926.8" x2="849.9" y2="926.8" stroke="#3c3c3c" stroke-width="1.3"/>
<line x1="1401.6" y1="926.8" x2="1396.1" y2="926.8" stroke="#3c3c3c" stroke-width="1.3"/>
<text font-size="30.4" text-anchor="end" transform="translate(833.2,938.7) scale(1.0,1.05)">0.3</text>
<line x1="844.4" y1="995.67" x2="849.9" y2="995.67" stroke="#3c3c3c" stroke-width="1.3"/>
<line x1="1401.6" y1="995.67" x2="1396.1" y2="995.67" stroke="#3c3c3c" stroke-width="1.3"/>
<text font-size="30.4" text-anchor="end" transform="translate(833.2,1007.57) scale(1.0,1.05)">0.2</text>
<line x1="844.4" y1="1064.53" x2="849.9" y2="1064.53" stroke="#3c3c3c" stroke-width="1.3"/>
<line x1="1401.6" y1="1064.53" x2="1396.1" y2="1064.53" stroke="#3c3c3c" stroke-width="1.3"/>
<text font-size="30.4" text-anchor="end" transform="translate(833.2,1076.43) scale(1.0,1.05)">0.1</text>
<line x1="844.4" y1="1133.4" x2="849.9" y2="1133.4" stroke="#3c3c3c" stroke-width="1.3"/>
<line x1="1401.6" y1="1133.4" x2="1396.1" y2="1133.4" stroke="#3c3c3c" stroke-width="1.3"/>
<text font-size="30.4" text-anchor="end" transform="translate(833.2,1145.3) scale(1.0,1.05)">0</text>
<line x1="844.4" y1="1133.4" x2="844.4" y2="1127.9" stroke="#3c3c3c" stroke-width="1.3"/>
<line x1="844.4" y1="720.2" x2="844.4" y2="725.7" stroke="#3c3c3c" stroke-width="1.3"/>
<line x1="983.7" y1="1133.4" x2="983.7" y2="1127.9" stroke="#3c3c3c" stroke-width="1.3"/>
<line x1="983.7" y1="720.2" x2="983.7" y2="725.7" stroke="#3c3c3c" stroke-width="1.3"/>
<line x1="1123" y1="1133.4" x2="1123" y2="1127.9" stroke="#3c3c3c" stroke-width="1.3"/>
<line x1="1123" y1="720.2" x2="1123" y2="725.7" stroke="#3c3c3c" stroke-width="1.3"/>
<line x1="1262.3" y1="1133.4" x2="1262.3" y2="1127.9" stroke="#3c3c3c" stroke-width="1.3"/>
<line x1="1262.3" y1="720.2" x2="1262.3" y2="725.7" stroke="#3c3c3c" stroke-width="1.3"/>
<line x1="1401.6" y1="1133.4" x2="1401.6" y2="1127.9" stroke="#3c3c3c" stroke-width="1.3"/>
<line x1="1401.6" y1="720.2" x2="1401.6" y2="725.7" stroke="#3c3c3c" stroke-width="1.3"/>
<text font-size="30.4" text-anchor="middle" transform="translate(844.4,1172) scale(1.0,1.05)">2</text>
<text font-size="30.4" text-anchor="middle" transform="translate(983.7,1172) scale(1.0,1.05)">4</text>
<text font-size="30.4" text-anchor="middle" transform="translate(1123,1172) scale(1.0,1.05)">6</text>
<text font-size="30.4" text-anchor="middle" transform="translate(1262.3,1172) scale(1.0,1.05)">8</text>
<text font-size="30.4" text-anchor="middle" transform="translate(1401.6,1172) scale(1.0,1.05)">10</text>
<polyline points="844.4,770.7 914.05,885 983.7,944.1 1053.35,978.9 1123,1004.8 1192.65,1021.9 1262.3,1036.6 1331.95,1046.6 1401.6,1054.7" fill="none" stroke="#3778c2" stroke-width="4.9" stroke-linejoin="round" stroke-linecap="butt"/>
<polyline points="844.4,839.6 914.05,951.7 983.7,1004.6 1053.35,1034 1123,1052.9 1192.65,1065.3 1262.3,1075.6 1331.95,1082.2 1401.6,1087" fill="none" stroke="#dc5323" stroke-width="4.9" stroke-linejoin="round" stroke-linecap="butt"/>
<polyline points="844.4,895.6 914.05,1006.2 983.7,1050 1053.35,1072.2 1123,1087 1192.65,1096.2 1262.3,1102.1 1331.95,1106.5 1401.6,1109.5" fill="none" stroke="#e5b02d" stroke-width="4.9" stroke-linejoin="round" stroke-linecap="butt"/>
<polyline points="844.4,917.7 914.05,1022.8 983.7,1065.2 1053.35,1085.5 1123,1097.8 1192.65,1105.8 1262.3,1111 1331.95,1114.6 1401.6,1117.3" fill="none" stroke="#7b2e92" stroke-width="4.9" stroke-linejoin="round" stroke-linecap="butt"/>
<rect x="1274.4" y="730.2" width="117" height="141.2" fill="#fefefe" stroke="#6e6e6e" stroke-width="1.3"/>
<line x1="1280" y1="749.4" x2="1318.6" y2="749.4" stroke="#3778c2" stroke-width="5.3"/>
<text font-size="27.6" text-anchor="start" transform="translate(1322,760.4) scale(1.0,1.04)">T=3</text>
<line x1="1280" y1="783.6" x2="1318.6" y2="783.6" stroke="#dc5323" stroke-width="5.3"/>
<text font-size="27.6" text-anchor="start" transform="translate(1322,794.6) scale(1.0,1.04)">T=10</text>
<line x1="1280" y1="817.8" x2="1318.6" y2="817.8" stroke="#e5b02d" stroke-width="5.3"/>
<text font-size="27.6" text-anchor="start" transform="translate(1322,828.8) scale(1.0,1.04)">T=30</text>
<line x1="1280" y1="852" x2="1318.6" y2="852" stroke="#7b2e92" stroke-width="5.3"/>
<text font-size="27.6" text-anchor="start" transform="translate(1322,863) scale(1.0,1.04)">T=60</text>
<text x="0" y="0" font-size="34.1" text-anchor="middle" transform="translate(780.6,928.6) rotate(-90) scale(1,1.035)">LM synchrony</text>
<text font-size="34.1" text-anchor="middle" transform="translate(1123.8,1214.3) scale(1.0,1.035)">Species richness (n)</text>
<text x="706" y="638" font-size="48" text-anchor="start" font-weight="bold">(e)</text>
<rect x="1605.6" y="720.2" width="540.4" height="413.2" fill="none" stroke="#6e6e6e" stroke-width="1.3"/>
<line x1="1605.6" y1="720.2" x2="1611.1" y2="720.2" stroke="#3c3c3c" stroke-width="1.3"/>
<line x1="2146" y1="720.2" x2="2140.5" y2="720.2" stroke="#3c3c3c" stroke-width="1.3"/>
<text font-size="30.4" text-anchor="end" transform="translate(1594.4,732.1) scale(1.0,1.05)">0.55</text>
<line x1="1605.6" y1="802.84" x2="1611.1" y2="802.84" stroke="#3c3c3c" stroke-width="1.3"/>
<line x1="2146" y1="802.84" x2="2140.5" y2="802.84" stroke="#3c3c3c" stroke-width="1.3"/>
<text font-size="30.4" text-anchor="end" transform="translate(1594.4,814.74) scale(1.0,1.05)">0.5</text>
<line x1="1605.6" y1="885.48" x2="1611.1" y2="885.48" stroke="#3c3c3c" stroke-width="1.3"/>
<line x1="2146" y1="885.48" x2="2140.5" y2="885.48" stroke="#3c3c3c" stroke-width="1.3"/>
<text font-size="30.4" text-anchor="end" transform="translate(1594.4,897.38) scale(1.0,1.05)">0.45</text>
<line x1="1605.6" y1="968.12" x2="1611.1" y2="968.12" stroke="#3c3c3c" stroke-width="1.3"/>
<line x1="2146" y1="968.12" x2="2140.5" y2="968.12" stroke="#3c3c3c" stroke-width="1.3"/>
<text font-size="30.4" text-anchor="end" transform="translate(1594.4,980.02) scale(1.0,1.05)">0.4</text>
<line x1="1605.6" y1="1050.76" x2="1611.1" y2="1050.76" stroke="#3c3c3c" stroke-width="1.3"/>
<line x1="2146" y1="1050.76" x2="2140.5" y2="1050.76" stroke="#3c3c3c" stroke-width="1.3"/>
<text font-size="30.4" text-anchor="end" transform="translate(1594.4,1062.66) scale(1.0,1.05)">0.35</text>
<line x1="1605.6" y1="1133.4" x2="1611.1" y2="1133.4" stroke="#3c3c3c" stroke-width="1.3"/>
<line x1="2146" y1="1133.4" x2="2140.5" y2="1133.4" stroke="#3c3c3c" stroke-width="1.3"/>
<text font-size="30.4" text-anchor="end" transform="translate(1594.4,1145.3) scale(1.0,1.05)">0.3</text>
<line x1="1605.6" y1="1133.4" x2="1605.6" y2="1127.9" stroke="#3c3c3c" stroke-width="1.3"/>
<line x1="1605.6" y1="720.2" x2="1605.6" y2="725.7" stroke="#3c3c3c" stroke-width="1.3"/>
<line x1="1713.68" y1="1133.4" x2="1713.68" y2="1127.9" stroke="#3c3c3c" stroke-width="1.3"/>
<line x1="1713.68" y1="720.2" x2="1713.68" y2="725.7" stroke="#3c3c3c" stroke-width="1.3"/>
<line x1="1821.76" y1="1133.4" x2="1821.76" y2="1127.9" stroke="#3c3c3c" stroke-width="1.3"/>
<line x1="1821.76" y1="720.2" x2="1821.76" y2="725.7" stroke="#3c3c3c" stroke-width="1.3"/>
<line x1="1929.84" y1="1133.4" x2="1929.84" y2="1127.9" stroke="#3c3c3c" stroke-width="1.3"/>
<line x1="1929.84" y1="720.2" x2="1929.84" y2="725.7" stroke="#3c3c3c" stroke-width="1.3"/>
<line x1="2037.92" y1="1133.4" x2="2037.92" y2="1127.9" stroke="#3c3c3c" stroke-width="1.3"/>
<line x1="2037.92" y1="720.2" x2="2037.92" y2="725.7" stroke="#3c3c3c" stroke-width="1.3"/>
<line x1="2146" y1="1133.4" x2="2146" y2="1127.9" stroke="#3c3c3c" stroke-width="1.3"/>
<line x1="2146" y1="720.2" x2="2146" y2="725.7" stroke="#3c3c3c" stroke-width="1.3"/>
<text font-size="30.4" text-anchor="middle" transform="translate(1605.6,1172) scale(1.0,1.05)">0</text>
<text font-size="30.4" text-anchor="middle" transform="translate(1713.68,1172) scale(1.0,1.05)">0.1</text>
<text font-size="30.4" text-anchor="middle" transform="translate(1821.76,1172) scale(1.0,1.05)">0.2</text>
<text font-size="30.4" text-anchor="middle" transform="translate(1929.84,1172) scale(1.0,1.05)">0.3</text>
<text font-size="30.4" text-anchor="middle" transform="translate(2037.92,1172) scale(1.0,1.05)">0.4</text>
<text font-size="30.4" text-anchor="middle" transform="translate(2146,1172) scale(1.0,1.05)">0.5</text>
<polyline points="1605.6,797.2 1659.64,787.5 1713.68,781 1767.72,774.4 1821.76,768.1 1875.8,763.5 1929.84,758.3 1983.88,753.5 2037.92,750.3 2091.96,745.5 2146,740.7" fill="none" stroke="#3778c2" stroke-width="4.9" stroke-linejoin="round" stroke-linecap="butt"/>
<polyline points="1605.6,802.3 1659.64,814 1713.68,826 1767.72,837.5 1821.76,849.6 1875.8,861 1929.84,871.6 1983.88,882.7 2037.92,893.3 2091.96,906.7 2146,912.4" fill="none" stroke="#dc5323" stroke-width="4.9" stroke-linejoin="round" stroke-linecap="butt"/>
<polyline points="1605.6,803.2 1659.64,827.5 1713.68,851 1767.72,872.5 1821.76,896.5 1875.8,921.7 1929.84,949.4 1983.88,975.5 2037.92,1002.5 2091.96,1028.4 2146,1053.4" fill="none" stroke="#e5b02d" stroke-width="4.9" stroke-linejoin="round" stroke-linecap="butt"/>
<polyline points="1605.6,803.2 1659.64,831 1713.68,857 1767.72,881 1821.76,907.5 1875.8,940 1929.84,971 1983.88,998.2 2037.92,1033.5 2091.96,1066.7 2146,1098.1" fill="none" stroke="#7b2e92" stroke-width="4.9" stroke-linejoin="round" stroke-linecap="butt"/>
<rect x="1614.4" y="959.4" width="117" height="141.2" fill="#fefefe" stroke="#6e6e6e" stroke-width="1.3"/>
<line x1="1620" y1="978.6" x2="1658.6" y2="978.6" stroke="#3778c2" stroke-width="5.3"/>
<text font-size="27.6" text-anchor="start" transform="translate(1662,989.6) scale(1.0,1.04)">T=3</text>
<line x1="1620" y1="1012.8" x2="1658.6" y2="1012.8" stroke="#dc5323" stroke-width="5.3"/>
<text font-size="27.6" text-anchor="start" transform="translate(1662,1023.8) scale(1.0,1.04)">T=10</text>
<line x1="1620" y1="1047" x2="1658.6" y2="1047" stroke="#e5b02d" stroke-width="5.3"/>
<text font-size="27.6" text-anchor="start" transform="translate(1662,1058) scale(1.0,1.04)">T=30</text>
<line x1="1620" y1="1081.2" x2="1658.6" y2="1081.2" stroke="#7b2e92" stroke-width="5.3"/>
<text font-size="27.6" text-anchor="start" transform="translate(1662,1092.2) scale(1.0,1.04)">T=60</text>
<text x="0" y="0" font-size="34.1" text-anchor="middle" transform="translate(1525,928.6) rotate(-90) scale(1,1.035)">LM synchrony</text>
<text font-size="34.1" text-anchor="middle" transform="translate(1873.8,1214) scale(1.0,1.035)">Competition strengths (a)</text>
<text x="1437" y="638" font-size="48" text-anchor="start" font-weight="bold">(f)</text>
</svg>
</body></html>
